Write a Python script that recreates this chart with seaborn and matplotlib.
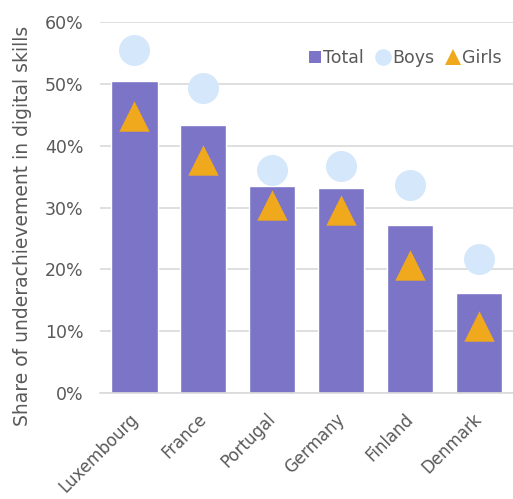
import matplotlib
matplotlib.use("Agg")
import matplotlib.pyplot as plt
import matplotlib.transforms as mtransforms
import seaborn as sns
import pandas as pd
from matplotlib.lines import Line2D
from matplotlib.ticker import PercentFormatter

countries = ["Luxembourg", "France", "Portugal", "Germany", "Finland", "Denmark"]
total = [50.5, 43.4, 33.5, 33.2, 27.2, 16.2]
boys = [55.5, 49.4, 36.1, 36.7, 33.7, 21.7]
girls = [44.8, 37.7, 30.4, 29.6, 20.7, 10.8]

df = pd.DataFrame({"country": countries, "Total": total, "Boys": boys, "Girls": girls})

sns.set_style("white")
plt.rcParams["font.family"] = "sans-serif"
plt.rcParams["font.sans-serif"] = ["DejaVu Sans"]

bar_color = "#7B74C7"
boy_color = "#D5E8FB"
girl_color = "#F0A81D"
text_color = "#595959"
fs = 12.5

fig = plt.figure(figsize=(5.13, 4.99), dpi=100)
ax = fig.add_axes([0.195, 0.212, 0.805, 0.744])

sns.barplot(data=df, x="country", y="Total", color=bar_color, width=0.67,
            saturation=1, ax=ax, zorder=2)
sns.scatterplot(data=df, x="country", y="Boys", color=boy_color, marker="o",
                s=500, linewidth=0, ax=ax, zorder=3)
sns.scatterplot(data=df, x="country", y="Girls", color=girl_color, marker="^",
                s=480, linewidth=0, ax=ax, zorder=4)

ax.set_ylim(0, 60)
ax.set_xlim(-0.5, 5.5)
ax.set_yticks(range(0, 61, 10))
ax.yaxis.set_major_formatter(PercentFormatter(decimals=0))
ax.yaxis.grid(True, color="#D9D9D9", linewidth=1.2, zorder=0)
ax.set_axisbelow(True)
for s in ["top", "right", "left"]:
    ax.spines[s].set_visible(False)
ax.spines["bottom"].set_color("#D9D9D9")
ax.spines["bottom"].set_linewidth(1.2)

ax.set_xlabel("")
ax.set_ylabel("Share of underachievement in digital skills", color=text_color,
              fontsize=13.5)
ax.yaxis.set_label_coords(-0.165, 0.45)
ax.tick_params(axis="both", colors=text_color, labelsize=fs, length=0)
ax.tick_params(axis="x", labelsize=12, pad=6)
ax.tick_params(axis="y", pad=12)
# nudge rotated country labels down a little, like the original
shift = mtransforms.ScaledTranslation(-4 / 72, -6 / 72, fig.dpi_scale_trans)
for lbl in ax.get_xticklabels():
    lbl.set_rotation(45)
    lbl.set_ha("right")
    lbl.set_rotation_mode("anchor")
    lbl.set_transform(lbl.get_transform() + shift)

handles = [
    Line2D([], [], marker="s", color="none", markerfacecolor=bar_color, markeredgewidth=0, markersize=9),
    Line2D([], [], marker="o", color="none", markerfacecolor=boy_color, markeredgewidth=0, markersize=12),
    Line2D([], [], marker="^", color="none", markerfacecolor=girl_color, markeredgewidth=0, markersize=12),
]
leg = ax.legend(handles, ["Total", "Boys", "Girls"], loc="upper right", ncol=3,
                bbox_to_anchor=(1.01, 0.97), frameon=False, fontsize=fs,
                handletextpad=0.0, columnspacing=0.6, handlelength=1.0)
for t in leg.get_texts():
    t.set_color(text_color)

fig.savefig("out.png", dpi=100)
